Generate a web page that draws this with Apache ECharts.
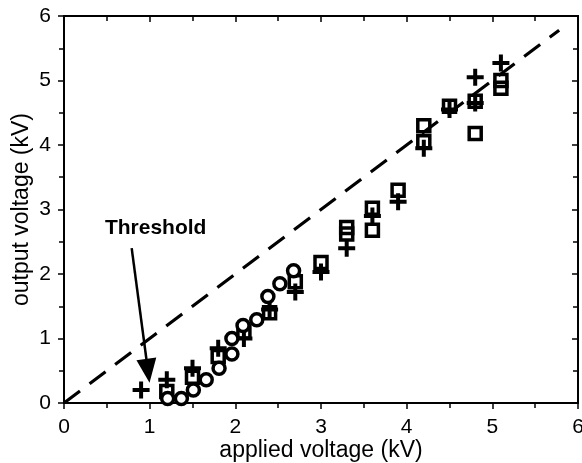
<!DOCTYPE html>
<html>
<head>
<meta charset="utf-8">
<script src="https://cdn.jsdelivr.net/npm/echarts@6/dist/echarts.min.js"></script>
<style>html,body{margin:0;padding:0;background:#fff}#c{width:582px;height:463px}</style>
</head>
<body>
<div id="c"></div>
<script>
var plusX = [0.9, 1.2, 1.5, 1.8, 2.1, 2.4, 2.7, 3.0, 3.3, 3.6, 3.9, 4.2, 4.5, 4.8, 4.8, 5.1];
var plusY = [0.2, 0.36, 0.54, 0.85, 1.0, 1.45, 1.72, 2.03, 2.4, 2.9, 3.12, 3.95, 4.55, 4.65, 5.05, 5.27];
var squareX = [1.2, 1.5, 1.8, 2.1, 2.4, 2.7, 3.0, 3.3, 3.3, 3.6, 3.6, 3.9, 4.2, 4.2, 4.5, 4.8, 4.8, 5.1, 5.1];
var squareY = [0.18, 0.4, 0.72, 1.1, 1.4, 1.88, 2.18, 2.62, 2.72, 2.68, 3.02, 3.3, 4.05, 4.3, 4.6, 4.68, 4.18, 4.88, 5.0];
var circleX = [1.21, 1.37, 1.51, 1.66, 1.81, 1.96, 1.96, 2.09, 2.25, 2.38, 2.52, 2.68];
var circleY = [0.07, 0.07, 0.2, 0.36, 0.54, 0.76, 1.0, 1.2, 1.29, 1.65, 1.85, 2.05];
var refLineX = [0, 5.78];
var refLineY = [0, 5.78];
var xTicks = [0, 1, 2, 3, 4, 5, 6];
var yTicks = [0, 1, 2, 3, 4, 5, 6];
var arrowStart = [0.79, 2.4];
var arrowEnd = [0.98, 0.5];
var thresholdPos = [1.07, 2.71];
var thresholdText = 'Threshold';

function zip(a, b) { return a.map(function (v, i) { return [v, b[i]]; }); }

var FONT = '"Liberation Sans", Arial, sans-serif';
var plusPath = 'path://M6.5,0h4v6.5h6.5v4h-6.5v6.5h-4v-6.5h-6.5v-4h6.5z';

function ax(extra) {
  var base = {
    min: 0, max: 6, interval: 1,
    nameMoveOverlap: false,
    axisLine: { show: true, onZero: false, lineStyle: { color: '#000', width: 2 } },
    splitLine: { show: false },
    minorTick: { show: true, splitNumber: 2, length: 5, lineStyle: { color: '#000', width: 1.5 } }
  };
  return Object.assign(base, extra);
}

var chart = echarts.init(document.getElementById('c'), null, { renderer: 'canvas' });
chart.setOption({
  animation: false,
  backgroundColor: '#fff',
  grid: { left: 64, right: 4, top: 16, bottom: 60, containLabel: false, outerBoundsMode: 'none',
    show: true, borderColor: '#000', borderWidth: 2, backgroundColor: 'rgba(0,0,0,0)' },
  xAxis: [
    ax({ type: 'value', position: 'bottom',
      name: 'applied voltage (kV)', nameLocation: 'middle', nameGap: 36,
      nameTextStyle: { fontFamily: FONT, fontSize: 23, color: '#000' },
      axisTick: { show: true, length: 6, inside: false, lineStyle: { color: '#000', width: 1.5 } },
      axisLabel: { show: true, margin: 14, fontFamily: FONT, fontSize: 21, color: '#000',
        formatter: function (v) { return xTicks.indexOf(v) >= 0 ? String(v) : ''; } } }),
    ax({ type: 'value', position: 'top',
      axisTick: { show: true, length: 6, inside: true, lineStyle: { color: '#000', width: 1.5 } },
      axisLabel: { show: false } })
  ],
  yAxis: [
    ax({ type: 'value', position: 'left',
      name: 'output voltage (kV)', nameLocation: 'middle', nameGap: 31,
      nameTextStyle: { fontFamily: FONT, fontSize: 23, color: '#000' },
      axisTick: { show: true, length: 6, inside: false, lineStyle: { color: '#000', width: 1.5 } },
      axisLabel: { show: true, margin: 13, fontFamily: FONT, fontSize: 21, color: '#000',
        formatter: function (v) { return yTicks.indexOf(v) >= 0 ? String(v) : ''; } } }),
    ax({ type: 'value', position: 'right',
      axisTick: { show: true, length: 6, inside: true, lineStyle: { color: '#000', width: 1.5 } },
      axisLabel: { show: false } })
  ],
  series: [
    {
      type: 'line', name: 'ideal', data: zip(refLineX, refLineY), showSymbol: false, symbol: 'none',
      lineStyle: { color: '#000', width: 3.2, type: [20, 12] }, z: 1, silent: true,
      markLine: {
        silent: true, symbol: ['none', 'triangle'], symbolSize: [20, 24],
        label: { show: false },
        lineStyle: { color: '#000', width: 2.5, type: 'solid' },
        data: [[{ coord: arrowStart }, { coord: arrowEnd }]]
      },
      markPoint: {
        symbol: 'circle', symbolSize: 0,
        label: { show: true, formatter: thresholdText, fontFamily: FONT, fontWeight: 'bold', fontSize: 21, color: '#000' },
        data: [{ coord: thresholdPos }]
      }
    },
    {
      type: 'scatter', name: 'plus', data: zip(plusX, plusY), symbol: plusPath, symbolSize: 17,
      itemStyle: { color: '#000', opacity: 1 }, z: 2
    },
    {
      type: 'scatter', name: 'square', data: zip(squareX, squareY), symbol: 'rect', symbolSize: 12,
      itemStyle: { color: 'rgba(0,0,0,0)', borderColor: '#000', borderWidth: 3.5, opacity: 1 }, z: 3
    },
    {
      type: 'scatter', name: 'circle', data: zip(circleX, circleY), symbol: 'circle', symbolSize: 12,
      itemStyle: { color: '#fff', borderColor: '#000', borderWidth: 3.5, opacity: 1 }, z: 4
    },
    {
      type: 'scatter', name: 'frame', xAxisIndex: 1, yAxisIndex: 1, data: [], silent: true
    }
  ]
});
</script>
</body>
</html>
